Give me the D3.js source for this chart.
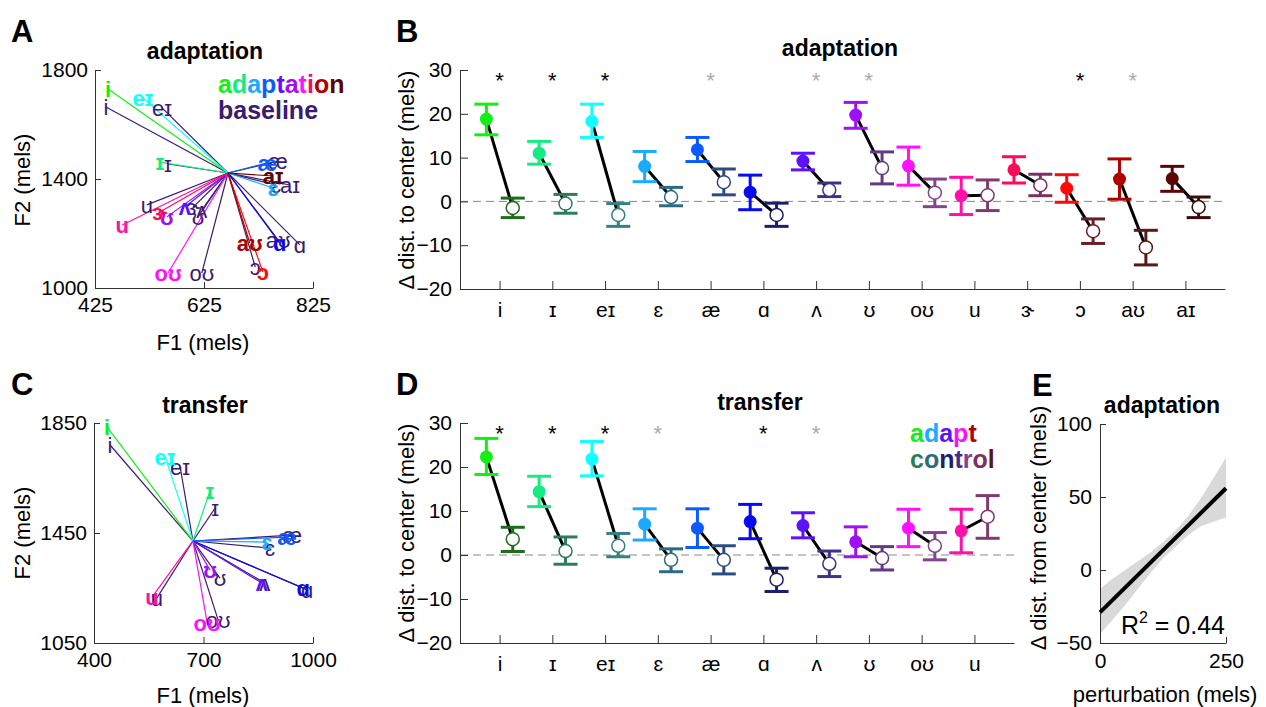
<!DOCTYPE html>
<html>
<head>
<meta charset="utf-8">
<script src="https://cdn.jsdelivr.net/npm/d3@7/dist/d3.min.js"></script>
<style>
  body { margin: 0; background: #fff; }
  svg { font-family: "Liberation Sans", Arial, "DejaVu Sans", sans-serif; }
</style>
</head>
<body>
<div id="chart"></div>
<script>
// vowel categories
const vowels = ["i", "ɪ", "eɪ", "ɛ", "æ", "ɑ", "ʌ", "ʊ", "oʊ", "u", "ɝ", "ɔ", "aʊ", "aɪ"];
const adaptColors = ["#12f012", "#12ec80", "#10ffff", "#1aaaff", "#0a5cff", "#0a0af0", "#5c12ff", "#a010f5",
    "#ff10ff", "#ff10a8", "#ff0a5a", "#ff0a0a", "#b00000", "#5a0606"];
const controlColors = ["#1d6e1d", "#2e7d5a", "#338282", "#2d6b82", "#2c4b80", "#1e1e6e", "#40308a", "#603a85",
    "#82448c", "#803a70", "#7d3060", "#6a1e28", "#5a1818", "#3a0c0c"];
const baselineColor = "#3b1b70";

// panel A: formant positions (mels)
const centerA = [669, 1422];
const adaptF1A = [449, 544, 513, 752, 741, 764, 590, 557, 559, 475, 544, 733, 709, 752];
const adaptF2A = [1730, 1462, 1697, 1367, 1459, 1165, 1297, 1261, 1055, 1231, 1279, 1059, 1165, 1411];
const baseF1A = [445, 559, 548, 757, 761, 801, 621, 614, 621, 520, 605, 719, 761, 783];
const baseF2A = [1664, 1455, 1661, 1378, 1466, 1158, 1286, 1261, 1055, 1305, 1297, 1077, 1176, 1378];

// panel C: formant positions (mels)
const centerC = [671, 1421];
const adaptF1C = [436, 718, 595, 874, 929, 973, 860, 718, 710, 559];
const adaptF2C = [1835, 1603, 1726, 1417, 1435, 1250, 1268, 1315, 1123, 1217];
const baseF1C = [444, 732, 636, 882, 943, 984, 868, 745, 740, 572];
const baseF2C = [1770, 1541, 1690, 1395, 1442, 1243, 1268, 1286, 1134, 1213];

// panel B: change in distance to center (mels), mean and error bar ends
const adaptMeanB = [18.8, 11.0, 18.3, 8.0, 11.8, 2.1, 9.2, 19.7, 8.1, 1.3, 7.2, 3.0, 5.1, 5.2];
const adaptLoB = [15.2, 8.5, 14.6, 4.5, 9.1, -1.9, 7.2, 16.7, 3.7, -3.0, 4.2, -0.2, 0.5, 2.3];
const adaptHiB = [22.2, 13.7, 22.2, 11.4, 14.6, 6.0, 11.0, 22.6, 12.4, 5.5, 10.2, 6.1, 9.7, 8.0];
const ctrlMeanB = [-1.5, -0.5, -3.1, 1.0, 4.4, -3.1, 2.6, 7.6, 2.0, 1.4, 3.7, -6.8, -10.5, -1.3];
const ctrlLoB = [-3.7, -2.7, -5.7, -1.0, 1.5, -5.7, 1.1, 4.0, -1.2, -2.1, 1.3, -9.6, -14.5, -3.7];
const ctrlHiB = [0.75, 1.6, -0.5, 3.2, 7.4, -0.4, 4.2, 11.3, 5.1, 4.9, 6.2, -4.0, -6.6, 1.0];
const starsB = ["k", "k", "k", null, "g", null, "g", "g", null, null, null, "k", "g", null];

// panel D
const adaptMeanD = [22.3, 14.4, 21.8, 7.0, 6.1, 7.6, 6.7, 3.0, 6.1, 5.5];
const adaptLoD = [18.3, 11.0, 18.0, 3.4, 1.7, 3.7, 3.9, -0.4, 1.9, 0.5];
const adaptHiD = [26.5, 17.9, 25.8, 10.5, 10.5, 11.5, 9.6, 6.4, 10.4, 10.4];
const ctrlMeanD = [3.6, 0.9, 2.1, -1.1, -1.1, -5.6, -2.0, -0.7, 2.1, 8.7];
const ctrlLoD = [0.8, -2.1, -0.4, -3.8, -4.3, -8.3, -4.9, -3.4, -1.1, 3.8];
const ctrlHiD = [6.3, 4.1, 4.9, 1.4, 2.1, -3.0, 0.9, 1.9, 5.1, 13.5];
const starsD = ["k", "k", "k", "g", null, "k", "g", null, null, null];

// panel E: regression fit and confidence band
const fitX = [0, 250];
const fitY = [-29, 56];
const bandX = [0, 25, 50, 75, 100, 125, 150, 175, 200, 225, 250];
const bandHi = [-13, -6, 0, 6, 12, 19, 27, 37, 49, 63, 77];
const bandLo = [-44, -34, -24, -13, -2, 8, 16, 24, 30, 33, 36];

// legend words
const legendAdaptation = "adaptation".split("");
const legendAdaptationColors = ["#12f012", "#12ec80", "#1aaaff", "#0a5cff", "#5c12ff", "#a010f5", "#ff10ff", "#ff0a5a", "#b00000", "#5a0606"];
const legendAdapt = "adapt".split("");
const legendAdaptColors = ["#12f012", "#1aaaff", "#5c12ff", "#ff10ff", "#b00000"];
const legendControl = "control".split("");
const legendControlColors = ["#2e7d5a", "#2d6b82", "#1e1e6e", "#40308a", "#82448c", "#7d3060", "#5a1818"];

const width = 1266, height = 707;
const axisColor = "#333";
const tickSize = 21, labelSize = 22, titleSize = 23;

const svg = d3.select("#chart").append("svg")
    .attr("width", width)
    .attr("height", height);

function styleAxis(g, size) {
    g.attr("font-size", null).attr("font-family", null);
    g.select(".domain").attr("stroke", axisColor).attr("stroke-width", 1);
    g.selectAll(".tick line").attr("stroke", axisColor);
    g.selectAll(".tick text").attr("fill", "#000").style("font-size", size + "px");
}

function panelLetter(letter, x, y) {
    svg.append("text")
        .attr("x", x).attr("y", y)
        .attr("font-size", 31).attr("font-weight", "bold")
        .text(letter);
}

function title(txt, x, y) {
    svg.append("text")
        .attr("x", x).attr("y", y)
        .attr("text-anchor", "middle")
        .attr("font-size", titleSize).attr("font-weight", "bold")
        .text(txt);
}

function yLabel(txt, x, y) {
    svg.append("text")
        .attr("transform", "translate(" + x + "," + y + ") rotate(-90)")
        .attr("text-anchor", "middle")
        .attr("font-size", labelSize)
        .text(txt);
}

function xLabel(txt, x, y) {
    svg.append("text")
        .attr("x", x).attr("y", y)
        .attr("text-anchor", "middle")
        .attr("font-size", labelSize)
        .text(txt);
}

function colorWord(letters, colors, x, y) {
    const t = svg.append("text")
        .attr("x", x).attr("y", y)
        .attr("font-size", 25).attr("font-weight", "bold");
    t.selectAll("tspan").data(letters).enter().append("tspan")
        .attr("fill", (d, i) => colors[i])
        .text(d => d);
}

// vowel space plot (panels A and C)
function drawSpace(opts) {
    const x = d3.scaleLinear().domain(opts.xDomain).range(opts.xRange);
    const y = d3.scaleLinear().domain(opts.yDomain).range(opts.yRange);
    const g = svg.append("g");

    g.append("g")
        .attr("transform", "translate(0," + opts.yRange[0] + ")")
        .call(d3.axisBottom(x).tickValues(opts.xTicks).tickSizeInner(-6).tickSizeOuter(0).tickPadding(9).tickFormat(d3.format("d")))
        .call(a => styleAxis(a, tickSize));
    g.append("g")
        .attr("transform", "translate(" + opts.xRange[0] + ",0)")
        .call(d3.axisLeft(y).tickValues(opts.yTicks).tickSizeInner(-6).tickSizeOuter(0).tickPadding(7).tickFormat(d3.format("d")))
        .call(a => styleAxis(a, tickSize));

    const n = opts.adaptF1.length;
    const idx = d3.range(n);
    const cx = x(opts.center[0]), cy = y(opts.center[1]);

    g.selectAll(".bline").data(idx).enter().append("line")
        .attr("x1", cx).attr("y1", cy)
        .attr("x2", i => x(opts.baseF1[i])).attr("y2", i => y(opts.baseF2[i]))
        .attr("stroke", baselineColor).attr("stroke-width", 1.2);
    g.selectAll(".aline").data(idx).enter().append("line")
        .attr("x1", cx).attr("y1", cy)
        .attr("x2", i => x(opts.adaptF1[i])).attr("y2", i => y(opts.adaptF2[i]))
        .attr("stroke", i => adaptColors[i]).attr("stroke-width", 1.2);

    g.selectAll(".blabel").data(idx).enter().append("text")
        .attr("x", i => x(opts.baseF1[i])).attr("y", i => y(opts.baseF2[i]))
        .attr("text-anchor", "middle").attr("dy", "0.35em")
        .attr("font-size", 22).attr("fill", baselineColor)
        .text(i => vowels[i]);
    g.selectAll(".alabel").data(idx).enter().append("text")
        .attr("x", i => x(opts.adaptF1[i])).attr("y", i => y(opts.adaptF2[i]))
        .attr("text-anchor", "middle").attr("dy", "0.35em")
        .attr("font-size", 22).attr("font-weight", "bold").attr("fill", i => adaptColors[i])
        .text(i => vowels[i]);
}

// mean +/- error plot (panels B and D)
function drawMeans(opts) {
    const n = opts.adaptMean.length;
    const idx = d3.range(n);
    const x = d3.scaleLinear().domain([-0.75, n - 0.25]).range(opts.xRange);
    const y = d3.scaleLinear().domain([-20, 30]).range(opts.yRange);
    const g = svg.append("g");
    const off = 0.25, cap = 12;

    g.append("line")
        .attr("x1", opts.xRange[0]).attr("x2", opts.xRange[1])
        .attr("y1", y(0)).attr("y2", y(0))
        .attr("stroke", "#888").attr("stroke-width", 1).attr("stroke-dasharray", "8,5");

    g.append("g")
        .attr("transform", "translate(0," + opts.yRange[0] + ")")
        .call(d3.axisBottom(x).tickValues(idx).tickSizeInner(-8).tickSizeOuter(0).tickPadding(13).tickFormat(i => vowels[i]))
        .call(a => styleAxis(a, tickSize));
    g.append("g")
        .attr("transform", "translate(" + opts.xRange[0] + ",0)")
        .call(d3.axisLeft(y).tickValues([-20, -10, 0, 10, 20, 30]).tickSizeInner(-8).tickSizeOuter(0).tickPadding(8))
        .call(a => styleAxis(a, tickSize));

    // connecting lines
    g.selectAll(".conn").data(idx).enter().append("line")
        .attr("x1", i => x(i - off)).attr("y1", i => y(opts.adaptMean[i]))
        .attr("x2", i => x(i + off)).attr("y2", i => y(opts.ctrlMean[i]))
        .attr("stroke", "#000").attr("stroke-width", 3);

    function errorBars(cls, shift, lo, hi, colors) {
        const eb = g.selectAll("." + cls).data(idx).enter().append("g")
            .attr("stroke", i => colors[i]).attr("stroke-width", 3);
        eb.append("line")
            .attr("x1", i => x(i + shift)).attr("x2", i => x(i + shift))
            .attr("y1", i => y(lo[i])).attr("y2", i => y(hi[i]));
        eb.append("line")
            .attr("x1", i => x(i + shift) - cap).attr("x2", i => x(i + shift) + cap)
            .attr("y1", i => y(lo[i])).attr("y2", i => y(lo[i]));
        eb.append("line")
            .attr("x1", i => x(i + shift) - cap).attr("x2", i => x(i + shift) + cap)
            .attr("y1", i => y(hi[i])).attr("y2", i => y(hi[i]));
    }
    errorBars("eba", -off, opts.adaptLo, opts.adaptHi, adaptColors);
    errorBars("ebc", off, opts.ctrlLo, opts.ctrlHi, controlColors);

    g.selectAll(".dot").data(idx).enter().append("circle")
        .attr("cx", i => x(i - off)).attr("cy", i => y(opts.adaptMean[i]))
        .attr("r", 6.5).attr("fill", i => adaptColors[i]);
    g.selectAll(".odot").data(idx).enter().append("circle")
        .attr("cx", i => x(i + off)).attr("cy", i => y(opts.ctrlMean[i]))
        .attr("r", 6.5).attr("fill", "#fff")
        .attr("stroke", i => controlColors[i]).attr("stroke-width", 1.5);

    g.selectAll(".star").data(idx.filter(i => opts.stars[i])).enter().append("text")
        .attr("x", i => x(i)).attr("y", y(28.6))
        .attr("text-anchor", "middle").attr("dy", "0.55em")
        .attr("font-size", 22)
        .attr("fill", i => opts.stars[i] === "k" ? "#000" : "#aaa")
        .text("*");
}

// panel A
panelLetter("A", 11, 42);
title("adaptation", 205, 59);
drawSpace({
    xDomain: [425, 825], xRange: [95, 313], yDomain: [1000, 1800], yRange: [288, 70],
    xTicks: [425, 625, 825], yTicks: [1000, 1400, 1800], center: centerA,
    adaptF1: adaptF1A, adaptF2: adaptF2A, baseF1: baseF1A, baseF2: baseF2A
});
colorWord(legendAdaptation, legendAdaptationColors, 218, 93);
svg.append("text").attr("x", 218).attr("y", 119)
    .attr("font-size", 25).attr("font-weight", "bold").attr("fill", baselineColor)
    .text("baseline");
yLabel("F2 (mels)", 30, 180);
xLabel("F1 (mels)", 203, 350);

// panel C
panelLetter("C", 11, 395);
title("transfer", 205, 413);
drawSpace({
    xDomain: [400, 1000], xRange: [94, 313], yDomain: [1050, 1850], yRange: [643, 423],
    xTicks: [400, 700, 1000], yTicks: [1050, 1450, 1850], center: centerC,
    adaptF1: adaptF1C, adaptF2: adaptF2C, baseF1: baseF1C, baseF2: baseF2C
});
yLabel("F2 (mels)", 30, 533);
xLabel("F1 (mels)", 203, 703);

// panel B
panelLetter("B", 396, 42);
title("adaptation", 840, 56);
drawMeans({
    xRange: [460, 1225], yRange: [289, 70],
    adaptMean: adaptMeanB, adaptLo: adaptLoB, adaptHi: adaptHiB,
    ctrlMean: ctrlMeanB, ctrlLo: ctrlLoB, ctrlHi: ctrlHiB, stars: starsB
});
yLabel("Δ dist. to center (mels)", 414, 180);

// panel D
panelLetter("D", 396, 395);
title("transfer", 760, 410);
drawMeans({
    xRange: [460, 1014], yRange: [643, 423],
    adaptMean: adaptMeanD, adaptLo: adaptLoD, adaptHi: adaptHiD,
    ctrlMean: ctrlMeanD, ctrlLo: ctrlLoD, ctrlHi: ctrlHiD, stars: starsD
});
yLabel("Δ dist. to center (mels)", 414, 533);
colorWord(legendAdapt, legendAdaptColors, 910, 442);
colorWord(legendControl, legendControlColors, 910, 468);

// panel E
panelLetter("E", 1032, 396);
title("adaptation", 1162, 413);
(function () {
    const x = d3.scaleLinear().domain([0, 250]).range([1100, 1226]);
    const y = d3.scaleLinear().domain([-50, 100]).range([643, 424]);
    const g = svg.append("g");
    const band = d3.area()
        .x((d, i) => x(bandX[i]))
        .y0((d, i) => y(bandLo[i]))
        .y1((d, i) => y(bandHi[i]));
    g.append("path").datum(bandX).attr("d", band).attr("fill", "#d9d9d9");
    g.append("g")
        .attr("transform", "translate(0,643)")
        .call(d3.axisBottom(x).tickValues([0, 250]).tickSizeInner(-6).tickSizeOuter(0).tickPadding(10))
        .call(a => styleAxis(a, tickSize));
    g.append("g")
        .attr("transform", "translate(1100,0)")
        .call(d3.axisLeft(y).tickValues([-50, 0, 50, 100]).tickSizeInner(-6).tickSizeOuter(0).tickPadding(8))
        .call(a => styleAxis(a, tickSize));
    const line = d3.line().x((d, i) => x(fitX[i])).y((d, i) => y(fitY[i]));
    g.append("path").datum(fitX).attr("d", line)
        .attr("fill", "none").attr("stroke", "#000").attr("stroke-width", 4);
    const r2 = g.append("text").attr("x", 1225).attr("y", 634)
        .attr("text-anchor", "end").attr("font-size", 25);
    r2.append("tspan").text("R");
    r2.append("tspan").attr("dy", -11).attr("font-size", 16).text("2");
    r2.append("tspan").attr("dy", 11).text(" = 0.44");
})();
yLabel("Δ dist. from center (mels)", 1046, 528);
xLabel("perturbation (mels)", 1165, 702);
</script>
</body>
</html>
